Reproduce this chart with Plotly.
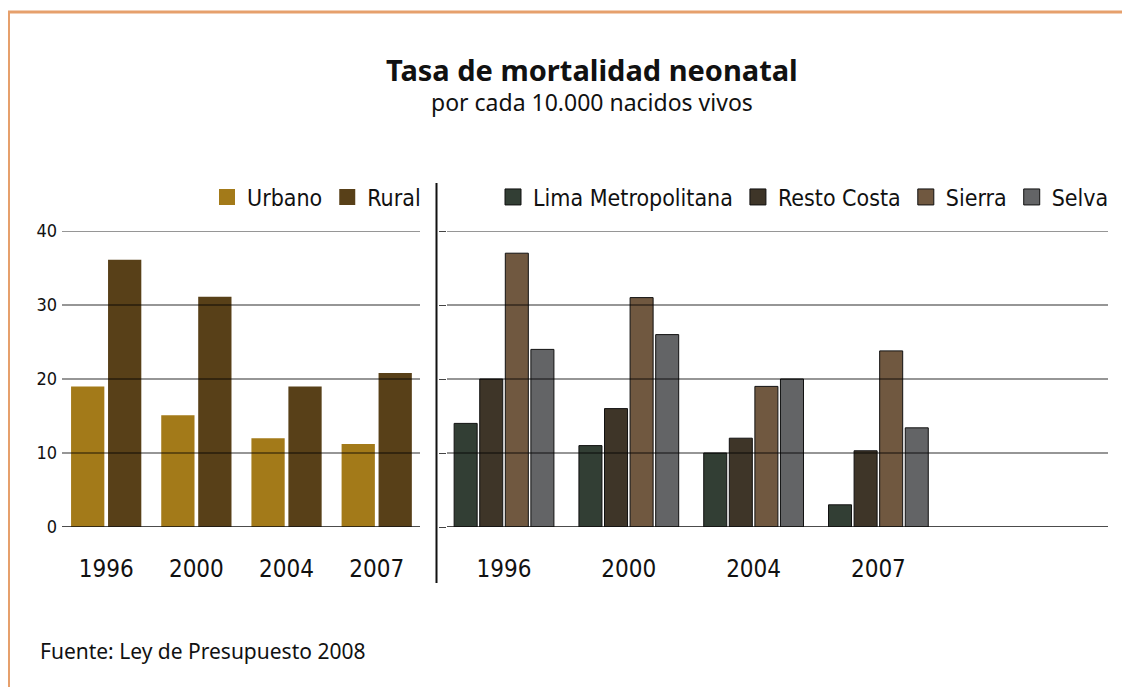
import plotly.graph_objects as go

W, H = 1130, 687

# ---------------- data ----------------
years = ["1996", "2000", "2004", "2007"]
urbano = [19, 15.1, 12, 11.2]
rural = [36.1, 31.1, 19, 20.8]

lima = [14, 11, 10, 3]
resto_costa = [20, 16, 12, 10.3]
sierra = [37, 31, 19, 23.8]
selva = [24, 26, 20, 13.4]

y_ticks = [0, 10, 20, 30, 40]
y_tick_labels = ["0", "10", "20", "30", "40"]

title = "<b>Tasa de mortalidad neonatal</b>"
subtitle = "por cada 10.000 nacidos vivos"
source = "Fuente: Ley de Presupuesto 2008"

# ---------------- styles ----------------
C_URB = "#A37A19"
C_RUR = "#584018"
C_LIMA = "#323E34"
C_RESTO = "#3E3528"
C_SIERRA = "#705840"
C_SELVA = "#636466"
FRAME = "#E6A06C"
COND = "DejaVu Sans Condensed, Liberation Sans Narrow, Arial Narrow, sans-serif"
SANS = "Noto Sans, Open Sans, DejaVu Sans, sans-serif"

# page offset of the plotly div inside the browser body (default body margin)
OX, OY = 8, 8


def px(x):
    return (x - OX) / W


def py(y):
    return (H - (y - OY)) / H


fig = go.Figure()

left_series = [("Urbano", urbano, C_URB), ("Rural", rural, C_RUR)]
right_series = [("Lima Metropolitana", lima, C_LIMA),
                ("Resto Costa", resto_costa, C_RESTO),
                ("Sierra", sierra, C_SIERRA),
                ("Selva", selva, C_SELVA)]

for name, vals, col in left_series:
    fig.add_trace(go.Bar(x=years, y=vals, name=name, marker=dict(color=col, line=dict(width=0)),
                         xaxis="x", yaxis="y", showlegend=False))
    fig.add_trace(go.Scatter(x=[None], y=[None], mode="markers", name=name,
                             marker=dict(symbol="square", size=22, color=col),
                             xaxis="x", yaxis="y", legend="legend"))

for name, vals, col in right_series:
    fig.add_trace(go.Bar(x=years, y=vals, name=name,
                         marker=dict(color=col, line=dict(width=1, color="#111111")),
                         xaxis="x2", yaxis="y2", showlegend=False))
    fig.add_trace(go.Scatter(x=[None], y=[None], mode="markers", name=name,
                             marker=dict(symbol="square", size=22, color=col,
                                         line=dict(width=1, color="#111111")),
                             xaxis="x2", yaxis="y2", legend="legend2"))

ydom = [py(527), py(231)]

fig.update_layout(
    width=W, height=H,
    paper_bgcolor="white", plot_bgcolor="white",
    margin=dict(l=0, r=0, t=0, b=0, autoexpand=False),
    barmode="group", bargap=0.18, bargroupgap=0.1,
    xaxis=dict(domain=[px(62), px(420)], type="category", range=[-0.49, 3.48],
               showgrid=False, showline=False, ticks="", fixedrange=True, automargin=False,
               tickfont=dict(family=COND, size=24, color="#111111"),
               ticklabelstandoff=25),
    yaxis=dict(domain=ydom, range=[0, 40], tickvals=y_ticks, ticktext=y_tick_labels,
               showgrid=False, zeroline=False, showline=False, ticks="", automargin=False,
               tickfont=dict(family=COND, size=18, color="#111111"),
               ticklabelstandoff=4),
    xaxis2=dict(domain=[px(447), px(1108)], type="category", range=[-0.457, 4.84],
                showgrid=False, showline=False, ticks="", automargin=False,
                tickfont=dict(family=COND, size=24, color="#111111"),
                ticklabelstandoff=25),
    yaxis2=dict(domain=ydom, range=[0, 40], tickvals=y_ticks, anchor="x2", automargin=False,
                showgrid=False, zeroline=False, showline=False, showticklabels=False,
                ticks="outside", ticklen=7, tickcolor="#444444", tickwidth=1),
    legend=dict(orientation="h", x=px(426), xanchor="right", y=py(197), yanchor="middle",
                font=dict(family=COND, size=23, color="#111111"), bgcolor="rgba(0,0,0,0)",
                itemclick=False, itemdoubleclick=False),
    legend2=dict(orientation="h", x=px(1114), xanchor="right", y=py(197), yanchor="middle",
                 font=dict(family=COND, size=23, color="#111111"), bgcolor="rgba(0,0,0,0)",
                 itemclick=False, itemdoubleclick=False),
    showlegend=True,
)

shapes = []
# gridlines drawn above bars, as in the original
for xr, yr in [("x domain", "y"), ("x2 domain", "y2")]:
    for t in y_ticks:
        shapes.append(dict(type="line", xref=xr, yref=yr, x0=0, x1=1, y0=t, y1=t,
                           layer="above",
                           line=dict(color="#111111" if t == 0 else "rgba(0,0,0,0.55)",
                                     width=1.5)))
# vertical separator
shapes.append(dict(type="line", xref="paper", yref="paper", x0=px(436.5), x1=px(436.5),
                   y0=py(583), y1=py(183), line=dict(color="#111111", width=2)))
# orange frame
shapes.append(dict(type="line", xref="paper", yref="paper", x0=px(7), x1=1.0,
                   y0=py(12), y1=py(12), line=dict(color=FRAME, width=3)))
shapes.append(dict(type="line", xref="paper", yref="paper", x0=px(8.5), x1=px(8.5),
                   y0=0, y1=py(11), line=dict(color=FRAME, width=3)))
fig.update_layout(shapes=shapes)

fig.update_layout(annotations=[
    dict(text=title, xref="paper", yref="paper", x=px(592), y=py(70), xanchor="center",
         yanchor="middle", showarrow=False, font=dict(family=SANS, size=29, color="#111111")),
    dict(text=subtitle, xref="paper", yref="paper", x=px(592), y=py(102), xanchor="center",
         yanchor="middle", showarrow=False, font=dict(family=SANS, size=23, color="#111111")),
    dict(text=source, xref="paper", yref="paper", x=px(38), y=py(651), xanchor="left",
         yanchor="middle", showarrow=False, font=dict(family=SANS, size=21, color="#111111")),
])

fig.write_html("out.html")
